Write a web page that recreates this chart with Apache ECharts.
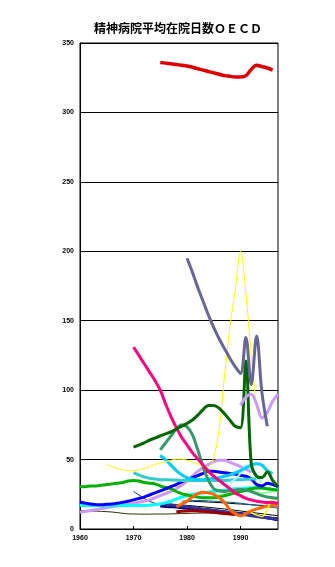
<!DOCTYPE html>
<html><head><meta charset="utf-8">
<script src="https://cdn.jsdelivr.net/npm/echarts/dist/echarts.min.js"></script>
<style>html,body{margin:0;padding:0;background:#fff}#c{width:335px;height:567px}</style>
</head><body><div id="c"></div>
<script>
const titleText = '精神病院平均在院日数ＯＥＣＤ';
const xLabels = [1960, 1970, 1980, 1990];
const yLabels = [0, 50, 100, 150, 200, 250, 300, 350];

// each series: first year + yearly values
const oliveStart = 1960;
const oliveVals = [13.2,13.1,13,12.9,12.7,12.5,12.2,11.8,11.3,10.9,10.8,10.8,10.7,10.7,10.8,10.8,10.8,10.9,11,11.1,11.2,11.3,11.4,11.5,11.5,11.4,11.2,11,10.8,10.6,10.3,10,9.7,9.4,9,8.7,8.4,8.2];
const darkTealStart = 1970;
const darkTealVals = [27,24.5,22,20,18.5,17.5,17,16.7,16.3,16,15.6,15.2,14.8,14.3,13.9,13.5,13,12.6,12.1,11.7,11.2,10.6,10,9.5,9,8.3,7.6,7];
const blackAStart = 1975;
const blackAVals = [18,18,17.8,17.5,17.2,17,16.7,16.3,16,15.6,15.2,14.8,14.4,14,13.5,13,12.5,12,11.5,11,10.5,10,9.5];
const blackBStart = 1980;
const blackBVals = [20,20,19.8,19.6,19.4,19.2,19,18.8,18.5,18.2,18,17.8,17.5,17.2,17,16.8,16.5,16.2];
const tealThinStart = 1979;
const tealThinVals = [20,20.2,20.4,20.5,20.5,20.3,20,19.8,19.5,19.2,19,18.5,18,17.5,17,16.5,16,15.5,15];
const navyStart = 1975;
const navyVals = [16.5,16.2,16,15.8,15.4,15,14.7,14.2,13.8,13.5,13,12.6,12.3,11.9,11.5,11.2,10.6,10.1,9.5,8.8,8.1,7.3,6.6];
const indigoStart = 1976;
const indigoVals = [17.5,17.3,17,16.6,16.1,15.6,15,14.5,14,13.5,13,12.4,11.8,11.3,10.8,10.2,9.6,9,8.5,8,7.5,7];
const darkRedStart = 1978;
const darkRedVals = [12.5,12.8,13,13.2,13,12.7,12.4,12,11.6,11.2,10.8,10.4];
const lavLowStart = 1960;
const lavLowVals = [12,12.7,13.3,14,14.7,15.3,16,16.5,17,17.7,18.5,19.2,20,21,22.5,24,25.5,27,29,31.5,34.5,38,41.5,44,46.5,48.5,49.5,49.5,48,46.5,45,43,41];
const cyanStart = 1960;
const cyanVals = [17,17,17,17,17,17,17,17,17,17,17,17,17,17.2,17.5,18,19,20,21.5,23,24,25,25.5,26,26.5,27,27.5,28,28.5,29,29,29.5,29.5,30,29.5,29,28.5,28];
const paleGreenStart = 1985;
const paleGreenVals = [24,24.5,25,25.5,26,26.5,27,27,26.5,26,26.5,27,27.5];
const greenStart = 1960;
const greenVals = [30.5,30.5,31,31,31.5,32,32.5,33,33.5,34.5,35,34.5,33.5,33,32.5,31,30,29,27,25.5,24.5,23.5,23,22.5,22.5,22.5,23,24,25,26,27,28,29,29.5,29.5,29,28.5,28];
const blueStart = 1960;
const blueVals = [19.5,18.5,18,17.5,17.5,17.8,18,18.5,19.2,20,21,22,23,24.5,26,27.5,29,30.5,32,34,35.5,37,38.5,40,41.5,41.5,41,40.5,40,39.5,38.5,38,36,32,31,33,32,30.5];
const turqStart = 1970;
const turqVals = [40.5,39,37.5,36.5,36,35.5,35.5,35.3,35.2,35,35,35,35,35,35,35,35,35,35.2,35.5,35.5,35.8,36,36];
const paleCyanStart = 1988;
const paleCyanVals = [33,36,40,46,43,37,34];
const deepSkyStart = 1975;
const deepSkyVals = [53,50,46,42,39,37,36,35.5,35.5,36,36.5,37,38,39,40.5,42,44,46,47,46,42,40];
const orangeStart = 1978;
const orangeVals = [16,18,20,23,25.5,26.5,26,25,22.5,19,14,11,9.5,11,13,14.5,15.5,16.5,17,17];
const yellowLowStart = 1992;
const yellowLowVals = [12,10,9,14,22,21];
const seaGreenStart = 1975;
const seaGreenVals = [57,62,67,72,75,73.5,68,57,45,35,29,27.5,27,27.5,28,28.5,28,27,25.5,24,23,22.5,22];
const yellowStart = 1965;
const yellowVals = [46.5,45,43.5,42.5,42,42,42.5,43.5,45,46.5,47.5,48.5,49.5,50.3,50.3,49.5,48.3,47,45,45,52,72,110,145,172,200,170,125,86];
const pinkStart = 1970;
const pinkVals = [131,125,119,113,107,100,90,81,73,66,60.5,55,50.5,46,41.5,38,35,32,29,26,24,22,21,20,19.5,19,19,18.5];
const darkGreenStart = 1970;
const darkGreenVals = [59,60.5,62,64,65.5,67,68.5,70,72,74,76,78.5,82,86,89,89,87,83,78.5,74,73,121,47,38,37,41,35,30.5];
const lavHighStart = 1990;
const lavHighVals = [89,95,97,90,80,84,92,97];
const slateStart = 1980;
const slateVals = [195,185,174,164,154,145,137,130,123,117,112,138,104,139,98,74];
const redStart = 1975;
const redVals = [336,335.5,335,334.5,334,333.5,332.5,331.5,330.5,329.5,328.5,327.5,326.5,326,325.5,325.5,326.5,331,334,333,332,330.5];

function pts(start, vals) { return vals.map((v, i) => [start + i, v]); }

const specs = [
  [oliveStart, oliveVals, '#333300', 1],
  [darkTealStart, darkTealVals, '#003366', 1],
  [blackAStart, blackAVals, '#000000', 1],
  [blackBStart, blackBVals, '#000000', 1],
  [tealThinStart, tealThinVals, '#006699', 1],
  [navyStart, navyVals, '#000080', 3],
  [indigoStart, indigoVals, '#333399', 3],
  [darkRedStart, darkRedVals, '#990000', 3],
  [lavLowStart, lavLowVals, '#cc99ff', 3],
  [cyanStart, cyanVals, '#00ffff', 3],
  [paleGreenStart, paleGreenVals, '#99ff99', 2],
  [greenStart, greenVals, '#00b000', 3],
  [blueStart, blueVals, '#0000ff', 3],
  [turqStart, turqVals, '#33cccc', 3],
  [paleCyanStart, paleCyanVals, '#99ffff', 2],
  [deepSkyStart, deepSkyVals, '#00ccff', 3],
  [orangeStart, orangeVals, '#ff6600', 3],
  [yellowLowStart, yellowLowVals, '#ffff00', 1.5],
  [seaGreenStart, seaGreenVals, '#339966', 3],
  [yellowStart, yellowVals, '#ffff00', 1],
  [pinkStart, pinkVals, '#ff0080', 3],
  [darkGreenStart, darkGreenVals, '#006600', 3],
  [lavHighStart, lavHighVals, '#cc99ff', 3],
  [slateStart, slateVals, '#666699', 3],
  [redStart, redVals, '#dd0000', 3.5]
];

const chart = echarts.init(document.getElementById('c'), null, { renderer: 'canvas' });
chart.setOption({
  animation: false,
  backgroundColor: '#ffffff',
  title: {
    text: titleText, left: 89, top: 17,
    textStyle: { fontSize: 12, fontWeight: 'bold', color: '#000', fontFamily: '"Noto Sans CJK JP", sans-serif' }
  },
  grid: { left: 80, right: 57, top: 43, bottom: 38, show: true, borderColor: '#000', borderWidth: 1, backgroundColor: 'transparent' },
  xAxis: {
    type: 'value', min: 1960, max: 1997, interval: 10,
    axisLine: { show: true, lineStyle: { color: '#000', width: 1 } },
    axisTick: { show: true, inside: true, length: 3, lineStyle: { color: '#000' } },
    splitLine: { show: false },
    axisLabel: {
      margin: 6, fontSize: 7, fontWeight: 'bold', color: '#000', fontFamily: '"Liberation Sans", Arial, sans-serif',
      showMaxLabel: false,
      formatter: v => (xLabels.includes(v) ? String(v) : '')
    }
  },
  yAxis: {
    type: 'value', min: 0, max: 350, interval: 50,
    axisLine: { show: true, lineStyle: { color: '#000', width: 1 } },
    axisTick: { show: false },
    splitLine: { show: true, lineStyle: { color: '#000', width: 1 } },
    axisLabel: {
      margin: 6, fontSize: 7, fontWeight: 'bold', color: '#000', fontFamily: '"Liberation Sans", Arial, sans-serif',
      formatter: v => (yLabels.includes(v) ? String(v) : '')
    }
  },
  series: specs.map(s => ({
    type: 'line', data: pts(s[0], s[1]), smooth: 0.35, showSymbol: false, symbol: 'none',
    lineStyle: { color: s[2], width: s[3] }, itemStyle: { color: s[2] }, silent: true
  }))
});
</script>
</body></html>
